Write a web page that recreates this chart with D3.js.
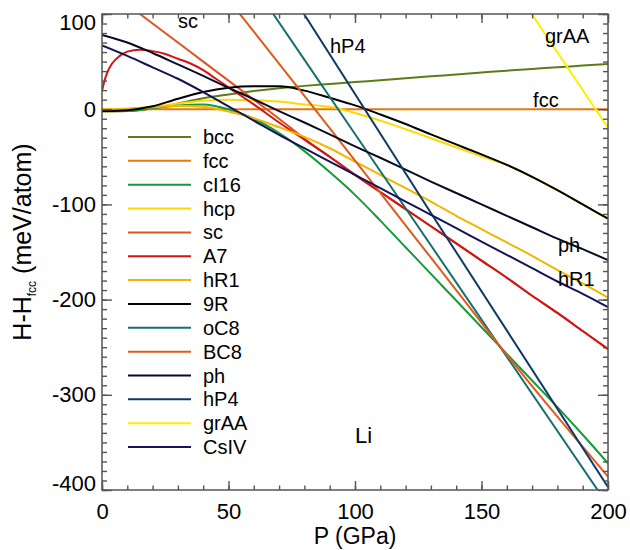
<!DOCTYPE html>
<html>
  <head>
    <meta charset="utf-8" />
    <title>Li enthalpies</title>
    <style>
      body {
        margin: 0;
        background: #fff;
        font-family: 'Liberation Sans', Arial, sans-serif;
      }
    </style>
    <script src="https://d3js.org/d3.v7.min.js"></script>
  </head>
  <body>
    <svg id="chart" width="630" height="550"></svg>

    <script>
      // pressure grid (GPa) shared by most of the phases
      var pGrid = [0, 10, 20, 30, 40, 50, 60, 70, 80, 90, 100, 110, 120, 130, 140, 150, 160, 170, 180, 190, 200];

      var bcc = [-2.5, -2, 1, 6, 11.5, 15.5, 19, 22, 24.5, 26.5, 28.5, 30.5, 32.5, 34.5, 36.5, 38.5, 40.5, 42.3, 44, 45.8, 47.5];
      var fccP = [0, 200];
      var fcc = [0, 0];
      var cI16 = [-2, -2, 1, 4, 5, 0, -10, -25, -44, -66, -90, -117, -145, -173, -201, -229, -257, -285, -313, -342, -372];
      var hcp = [0, 0.5, 2.5, 6, 9, 10, 9.5, 8, 5, 2.5, -4, -12, -21, -30.5, -40, -49.5, -58.5, -71, -85, -100, -115];
      var sc = [130, 110, 90, 70, 50, 30, 10, -10, -31, -50, -69, -87, -105, -123, -141, -159, -177, -196, -214, -233, -252];
      var a7P = [0, 1, 2, 4, 7, 10, 15, 20, 25, 30, 35, 40, 45, 50, 60, 70, 80, 90, 100, 110, 120, 130, 140, 150, 160, 170, 180, 190, 200];
      var a7 = [19, 30, 38, 48, 56, 60.5, 62.5, 61, 58, 53, 48, 41, 32, 23, 5, -14, -32, -50, -69, -87, -105, -123, -141, -159, -177, -196, -214, -233, -252];
      var hR1 = [0, 0.5, 2, 3.5, 2.5, -2.5, -9.5, -19, -29, -41, -55, -69, -83, -97, -112, -126, -140, -154, -169, -183, -198];
      var r9 = [-2, -1, 3, 11, 18, 22.5, 24, 24, 19.5, 12, 4, -5.5, -15.5, -26.5, -37, -47.5, -58.5, -71, -85, -100, -115];
      var oC8P = [60, 100, 200];
      var oC8 = [130, -26, -416];
      var bc8P = [50, 60, 80, 100, 120, 140, 160, 180, 200];
      var bc8 = [115, 81.5, 14, -54, -122, -190, -258, -323, -386];
      var ph = [78, 70, 59, 47, 35, 22.5, 10.5, -2, -14, -26.5, -39, -51, -63.5, -76, -88, -100, -112, -124, -136, -147, -158.5];
      var hP4P = [70, 130, 200];
      var hP4 = [141, -109, -397];
      var grAAP = [160, 200];
      var grAA = [139, -19.5];
      var csIV = [67, 56, 44, 32, 18, 3, -12, -27, -41, -55, -69, -83, -97, -111, -125, -139, -153, -167, -181, -194, -208];

      var xMajor = [0, 50, 100, 150, 200];
      var yMajor = [-400, -300, -200, -100, 0, 100];

      var series = [
        { name: 'bcc', p: pGrid, h: bcc, color: '#5a7e14' },
        { name: 'fcc', p: fccP, h: fcc, color: '#e6780c' },
        { name: 'cI16', p: pGrid, h: cI16, color: '#169a38' },
        { name: 'hcp', p: pGrid, h: hcp, color: '#ffd800' },
        { name: 'sc', p: pGrid, h: sc, color: '#e0521e' },
        { name: 'A7', p: a7P, h: a7, color: '#d41414' },
        { name: 'hR1', p: pGrid, h: hR1, color: '#f4b400' },
        { name: '9R', p: pGrid, h: r9, color: '#000000' },
        { name: 'oC8', p: oC8P, h: oC8, color: '#177070' },
        { name: 'BC8', p: bc8P, h: bc8, color: '#e05a1c' },
        { name: 'ph', p: pGrid, h: ph, color: '#0a0a26' },
        { name: 'hP4', p: hP4P, h: hP4, color: '#0e3a68' },
        { name: 'grAA', p: grAAP, h: grAA, color: '#fbf000' },
        { name: 'CsIV', p: pGrid, h: csIV, color: '#141458' },
      ];

      var labels = [
        { text: 'sc', p: 30, h: 85.5, size: 20 },
        { text: 'hP4', p: 90.1, h: 59.2, size: 20 },
        { text: 'grAA', p: 175.1, h: 69.7, size: 20 },
        { text: 'fcc', p: 170.4, h: 2, size: 20 },
        { text: 'ph', p: 180.2, h: -149.8, size: 20 },
        { text: 'hR1', p: 180.2, h: -185.5, size: 20 },
        { text: 'Li', p: 100, h: -350.4, size: 22 },
      ];

      var svg = d3.select('#chart');
      var mLeft = 102,
        mRight = 608,
        mTop = 14,
        mBottom = 490;

      var x = d3.scaleLinear().domain([0, 200]).range([mLeft, mRight]);
      var y = d3.scaleLinear().domain([-400, 100]).range([mBottom, mTop]);

      svg
        .append('clipPath')
        .attr('id', 'plot')
        .append('rect')
        .attr('x', mLeft)
        .attr('y', mTop)
        .attr('width', mRight - mLeft)
        .attr('height', mBottom - mTop);

      var line = d3
        .line()
        .x((d) => x(d[0]))
        .y((d) => y(d[1]))
        .curve(d3.curveMonotoneX);

      svg
        .append('g')
        .attr('clip-path', 'url(#plot)')
        .selectAll('path')
        .data(series)
        .enter()
        .append('path')
        .attr('d', (s) => line(s.p.map((p, i) => [p, s.h[i]])))
        .attr('fill', 'none')
        .attr('stroke', (s) => s.color)
        .attr('stroke-width', 2);

      // axes: IDL style, ticks pointing inward on all four sides
      var axisColor = '#555';
      var plain = (d) => String(d); // hyphen minus, like the original
      function styleAxis(g) {
        g.select('.domain').remove();
        g.selectAll('.tick line').attr('stroke', axisColor).attr('stroke-width', 1.4);
        g.selectAll('.tick text').attr('fill', '#000').style('font-size', '22px').style('font-family', "'Liberation Sans', Arial, sans-serif");
      }

      var xMinor = d3.range(0, 201, 10);
      var yMinor = d3.range(-400, 101, 10);

      svg.append('g').attr('transform', `translate(0,${mBottom})`).call(d3.axisBottom(x).tickValues(xMinor).tickSize(-4.5).tickFormat('')).call(styleAxis);
      svg.append('g').attr('transform', `translate(0,${mBottom})`).call(d3.axisBottom(x).tickValues(xMajor).tickSize(-9).tickPadding(13).tickFormat(plain)).call(styleAxis);
      svg.append('g').attr('transform', `translate(0,${mTop})`).call(d3.axisTop(x).tickValues(xMinor).tickSize(-4.5).tickFormat('')).call(styleAxis);
      svg.append('g').attr('transform', `translate(0,${mTop})`).call(d3.axisTop(x).tickValues(xMajor).tickSize(-9).tickFormat('')).call(styleAxis);

      svg.append('g').attr('transform', `translate(${mLeft},0)`).call(d3.axisLeft(y).tickValues(yMinor).tickSize(-5).tickFormat('')).call(styleAxis);
      var yAxis = svg
        .append('g')
        .attr('transform', `translate(${mLeft},0)`)
        .call(d3.axisLeft(y).tickValues(yMajor).tickSize(-10).tickPadding(6).tickFormat(plain))
        .call(styleAxis);
      svg.append('g').attr('transform', `translate(${mRight},0)`).call(d3.axisRight(y).tickValues(yMinor).tickSize(-5).tickFormat('')).call(styleAxis);
      svg.append('g').attr('transform', `translate(${mRight},0)`).call(d3.axisRight(y).tickValues(yMajor).tickSize(-10).tickFormat('')).call(styleAxis);

      // keep the end labels inside the frame
      yAxis.selectAll('.tick text').filter((d) => d === 100).attr('dy', '0.71em');
      yAxis.selectAll('.tick text').filter((d) => d === -400).attr('dy', '0');

      svg
        .append('rect')
        .attr('x', mLeft)
        .attr('y', mTop)
        .attr('width', mRight - mLeft)
        .attr('height', mBottom - mTop)
        .attr('fill', 'none')
        .attr('stroke', axisColor)
        .attr('stroke-width', 1.5);

      svg
        .append('text')
        .attr('x', (mLeft + mRight) / 2)
        .attr('y', 544)
        .attr('text-anchor', 'middle')
        .style('font-size', '23px')
        .text('P (GPa)');

      var yTitle = svg
        .append('text')
        .attr('transform', 'translate(31,242) rotate(-90)')
        .attr('text-anchor', 'middle')
        .style('font-size', '25px');
      yTitle.append('tspan').text('H-H');
      yTitle.append('tspan').attr('dy', 5).style('font-size', '12px').text('fcc');
      yTitle.append('tspan').attr('dy', -5).text(' (meV/atom)');

      // legend
      var legend = svg
        .append('g')
        .selectAll('g')
        .data(series)
        .enter()
        .append('g')
        .attr('transform', (d, i) => `translate(128,${137 + i * 23.85})`);

      legend
        .append('line')
        .attr('x1', 0)
        .attr('x2', 63)
        .attr('stroke', (d) => d.color)
        .attr('stroke-width', 2);

      legend
        .append('text')
        .attr('x', 75)
        .attr('dy', '0.35em')
        .style('font-size', '20px')
        .text((d) => d.name);

      svg
        .append('g')
        .selectAll('text')
        .data(labels)
        .enter()
        .append('text')
        .attr('x', (d) => x(d.p))
        .attr('y', (d) => y(d.h))
        .style('font-size', (d) => d.size + 'px')
        .text((d) => d.text);
    </script>
  </body>
</html>
